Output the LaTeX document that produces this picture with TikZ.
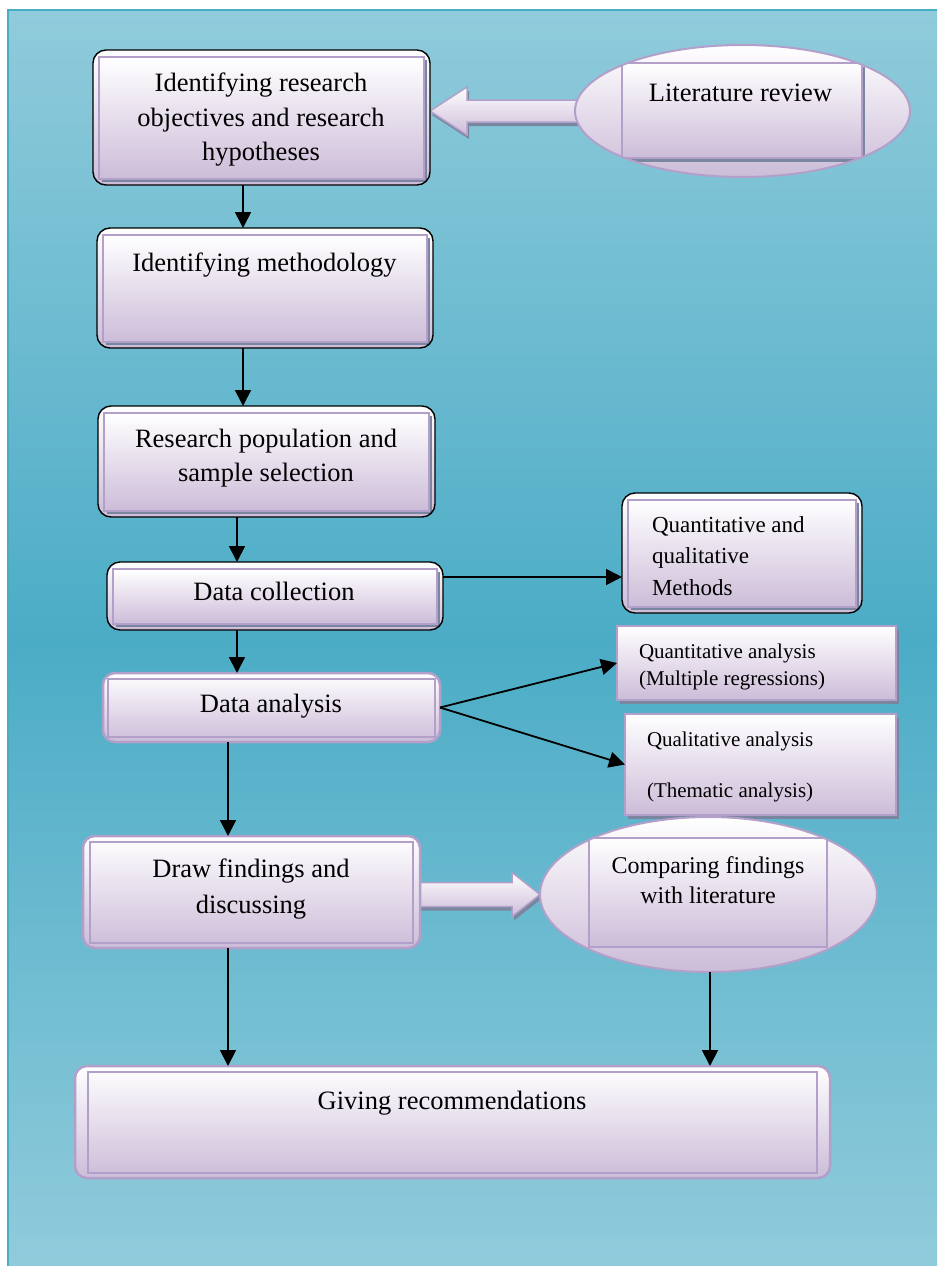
\documentclass[tikz,border=0pt]{standalone}
\usepackage{fontspec}
\setmainfont{Liberation Serif}
\usetikzlibrary{calc,arrows.meta,shadows,shapes.geometric}

\definecolor{bglight}{HTML}{90CBDB}
\definecolor{bgdark}{HTML}{4BACC6}
\definecolor{lav}{HTML}{CCBCD8}
\definecolor{purp}{HTML}{B3A0CA}
\definecolor{shadowc}{HTML}{7A86A0}

\pgfdeclarelayer{back}
\pgfdeclarelayer{mid}
\pgfsetlayers{back,mid,main}

\begin{document}
\begin{tikzpicture}[x=1pt,y=-1pt,
  every node/.style={inner sep=0pt, outer sep=0pt},
  grad/.style={top color=white, bottom color=lav},
  innerbox/.style={draw=purp, line width=2pt, grad, sharp corners},
  % rounded box with black outline and an inset framed panel
  blackbox/.style={rectangle, draw=black, line width=1.4pt, rounded corners=13pt, grad,
    path picture={
      \fill[shadowc, sharp corners] ($(path picture bounding box.north west)+(9,10)$) rectangle ($(path picture bounding box.south east)+(-3,-3)$);
      \draw[innerbox] ($(path picture bounding box.north west)+(6,7)$) rectangle ($(path picture bounding box.south east)+(-6,-6)$);
    }},
  % rounded box with lilac outline and a thin inner frame
  purplebox/.style={rectangle, rounded corners=12pt, draw=purp, line width=2.5pt, grad,
    path picture={
      \draw[purp, line width=1.6pt, sharp corners] ($(path picture bounding box.north west)+(#1,6)$) rectangle ($(path picture bounding box.south east)+(-#1,-5)$);
    }},
  plainbox/.style={rectangle, draw=purp, line width=2.2pt, grad,
    drop shadow={shadow xshift=3pt, shadow yshift=-4pt, fill=shadowc, opacity=1}},
  % ellipse holding a framed panel: insets left, top, right, bottom, panel shadow colour
  ellbox/.style n args={5}{ellipse, draw=purp, line width=2pt, grad,
    path picture={
      \fill[fill=#5] ($(path picture bounding box.north west)+(#1+3,#2+4)$) rectangle ($(path picture bounding box.south east)+(-#3+3,-#4+4)$);
      \draw[innerbox] ($(path picture bounding box.north west)+(#1,#2)$) rectangle ($(path picture bounding box.south east)+(-#3,-#4)$);
    }},
  blockarr/.style={draw=purp, line width=1.5pt, grad,
    drop shadow={shadow xshift=2pt, shadow yshift=-4pt, fill=shadowc, opacity=1}},
  conn/.style={draw=black, line width=1.8pt, -{Triangle[length=16pt,width=16pt]}},
  txt/.style={font=\fontsize{26.5}{34.5}\selectfont, align=center},
  txtm/.style={font=\fontsize{23}{31.5}\selectfont, align=left},
  txts/.style={font=\fontsize{21}{27}\selectfont, align=left},
  txtc/.style={font=\fontsize{24}{30}\selectfont, align=center},
]
\useasboundingbox (0,0) rectangle (937,1266);

% backdrop with vertical gradient
\begin{pgfonlayer}{back}
  \fill[white] (0,0) rectangle (937,1266);
  \shade[top color=bglight, bottom color=bgdark] (7,9) rectangle (937,641);
  \shade[top color=bgdark, bottom color=bglight] (7,640) rectangle (937,1266);
  \draw[bgdark, line width=2pt] (8,1266) -- (8,10) -- (937,10);
\end{pgfonlayer}

% main boxes
\node[blackbox, minimum width=337pt, minimum height=135pt] (b1) at (261.5,117.5) {};
\node[ellbox={47}{18}{48}{19}{shadowc}, minimum width=335pt, minimum height=132pt] (lit) at (742.5,111) {};
\node[blackbox, minimum width=336pt, minimum height=120pt] (b2) at (265,288) {};
\node[blackbox, minimum width=337pt, minimum height=111pt] (b3) at (266.5,461.5) {};
\node[blackbox, minimum width=336pt, minimum height=68pt] (b4) at (275,596) {};
\node[blackbox, minimum width=240pt, minimum height=120pt] (m1) at (742,553) {};
\node[purplebox=5, minimum width=337pt, minimum height=69pt] (b5) at (271.5,707.5) {};
\node[plainbox, minimum width=279pt, minimum height=74pt] (q1) at (756.5,663) {};
\node[plainbox, minimum width=271pt, minimum height=101pt] (q2) at (760.5,764.5) {};
\node[purplebox=7, minimum width=337pt, minimum height=112pt] (b6) at (251.5,892) {};
\node[ellbox={49}{21}{50}{25}{none}, minimum width=337pt, minimum height=155pt] (cmp) at (708.5,894.5) {};
\node[purplebox=13, minimum width=755pt, minimum height=112pt] (b7) at (452.5,1122) {};

% labels
\node[txt] (t1) at (261,120) {Identifying research\\objectives and research\\hypotheses};
\node[txt, anchor=base] (tlit) at (740.5,101) {Literature review};
\node[txt, anchor=base] (t2) at (264.5,271) {Identifying methodology};
\node[txt] (t3) at (266,458) {Research population and\\sample selection};
\node[txt, anchor=base] (t4) at (274,600) {Data collection};
\node[txtm, anchor=west] (tm1) at (652,556) {Quantitative and\\qualitative\\Methods};
\node[txt, anchor=base] (t5) at (271,712) {Data analysis};
\node[txts, anchor=west] (tq1) at (639,666.5) {Quantitative analysis\\(Multiple regressions)};
\node[txts, anchor=west] (tq2) at (647,766.5) {Qualitative analysis\\[24pt](Thematic analysis)};
\node[txt, font=\fontsize{26.5}{36}\selectfont] (t6) at (251,888.6) {Draw findings and\\discussing};
\node[txtc] (tcmp) at (708,880) {Comparing findings\\with literature};
\node[txt, anchor=base] (t7) at (452,1109) {Giving recommendations};

% broad arrows
\begin{pgfonlayer}{mid}
  \draw[blockarr] (b1.east |- lit.west) -- ++(37,-24) -- ++(0,13)
    -- ($(lit.west)+(10,-11)$) -- ($(lit.west)+(10,11)$)
    -- ($(b1.east |- lit.west)+(37,11)$) -- ++(0,13) -- cycle;
  \draw[blockarr] (cmp.west) -- ++(-28,-22) -- ++(0,10)
    -- ($(b6.east |- cmp.west)+(-6,-12)$) -- ($(b6.east |- cmp.west)+(-6,12)$)
    -- ($(cmp.west)+(-28,12)$) -- ++(0,10) -- cycle;
\end{pgfonlayer}

% connectors
\coordinate (colA) at (243,0);
\coordinate (colB) at (237,0);
\coordinate (colC) at (228,0);
\coordinate (colD) at (710,0);
\coordinate (rowM) at (0,577);
\draw[conn] (b1.south -| colA) -- (b2.north -| colA);
\draw[conn] (b2.south -| colA) -- (b3.north -| colA);
\draw[conn] (b3.south -| colB) -- (b4.north -| colB);
\draw[conn] (b4.south -| colB) -- (b5.north -| colB);
\draw[conn] (b4.east |- rowM) -- (m1.west |- rowM);
\draw[conn] (b5.east) -- (q1.west);
\draw[conn] (b5.east) -- (q2.west);
\draw[conn] (b5.south -| colC) -- (b6.north -| colC);
\draw[conn] (b6.south -| colC) -- (b7.north -| colC);
\draw[conn] (cmp.south -| colD) -- (b7.north -| colD);
\end{tikzpicture}
\end{document}
